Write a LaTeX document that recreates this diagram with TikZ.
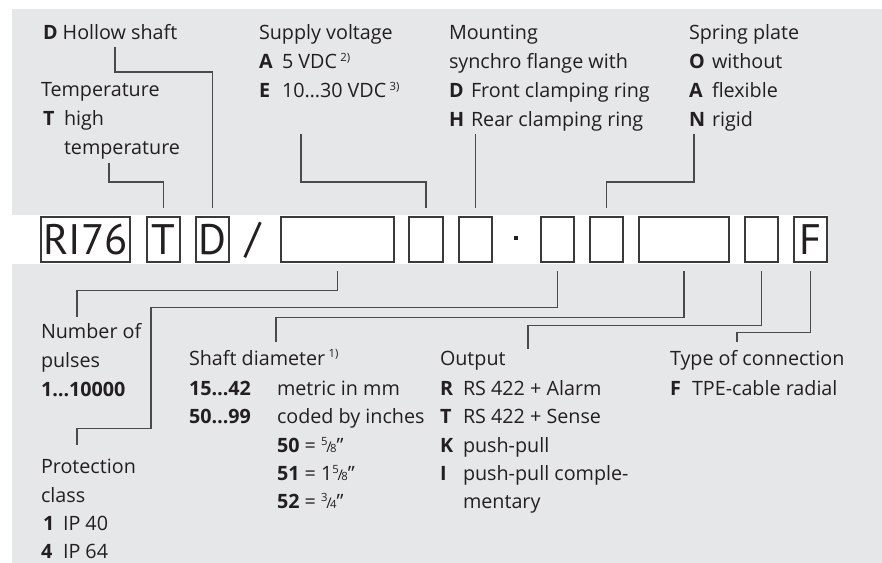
\documentclass[tikz,border=0pt]{standalone}
\usepackage{fontspec}
\setmainfont{Open Sans}
\newfontfamily\codefont{PT Sans}
\usetikzlibrary{calc}
\definecolor{bg}{HTML}{E6E7E8}
\definecolor{ink}{HTML}{231F20}
\definecolor{wire}{HTML}{4A4A4A}
\definecolor{frame}{HTML}{3A3A3A}
\newcommand\myfr[2]{\raisebox{0.62ex}{\fontsize{8.5}{9}\selectfont #1}\kern-0.06em{\fontsize{11}{12}\selectfont/}\kern-0.08em{\fontsize{8.5}{9}\selectfont #2}}
\newcommand\mysup[1]{\,\raisebox{0.75ex}{\fontsize{8.5}{9}\selectfont #1}}
\begin{document}
\begin{tikzpicture}[x=0.75pt,y=-0.75pt,
  lbl/.style={anchor=base west, inner sep=0pt, outer sep=0pt, text=ink, font=\fontsize{14.8}{17}\selectfont},
  codebox/.style={draw=frame, line width=1pt, fill=white, minimum height=33.75pt, minimum width=24.75pt, inner sep=0pt, text=ink, font=\codefont\fontsize{32}{36}\selectfont},
  codetxt/.style={inner sep=0pt, text=ink, font=\codefont\fontsize{32}{36}\selectfont},
  conn/.style={draw=wire, line width=0.8pt},
  upconn/.style={conn, shorten >=6pt},
  downconn/.style={conn, shorten <=6.5pt}]
\useasboundingbox (0,0) rectangle (882,563);
\fill[white] (0,0) rectangle (882,563);
\fill[bg] (12,9) rectangle (882,563);
\fill[white] (12,215) rectangle (828,264);

% code boxes
\node[codebox, minimum width=66.75pt] (bR) at (85.5,239.5) {RI76};
\node[codebox] (bT) at (163.5,239.5) {T};
\node[codebox] (bD) at (212.5,239.5) {D};
\node[codetxt] (sl) at (253,240) {/};
\node[codebox, minimum width=84.75pt] (bP) at (337.5,239.5) {};
\node[codebox, minimum width=25.5pt] (bV) at (426,239.5) {};
\node[codebox] (bM) at (475.5,239.5) {};
\node[fill=ink, inner sep=0pt, minimum size=3pt] (dot) at (516,238) {};
\node[codebox] (bC) at (557.5,239.5) {};
\node[codebox] (bS) at (606.5,239.5) {};
\node[codebox, minimum width=67.5pt] (bW) at (684,239.5) {};
\node[codebox] (bO) at (761.5,239.5) {};
\node[codebox] (bF) at (810.5,239.5) {F};

% top labels
\node[lbl] (hd1) at (43,40) {\textbf{D} Hollow shaft};
\node[lbl] (tp1) at (41,97) {Temperature};
\node[lbl] (tp2) at (43,126) {\textbf{T}};
\node[lbl] (tp3) at (64,126) {high};
\node[lbl] (tp4) at (64,155) {temperature};
\node[lbl] (sv1) at (259,40) {Supply voltage};
\node[lbl] (sv2) at (259,69) {\textbf{A}};
\node[lbl] (sv3) at (282,69) {5 VDC\mysup{2)}};
\node[lbl] (sv4) at (259,98) {\textbf{E}};
\node[lbl] (sv5) at (282,98) {10…30 VDC\mysup{3)}};
\node[lbl] (mt1) at (449,40) {Mounting};
\node[lbl] (mt2) at (449,69) {synchro flange with};
\node[lbl] (mt3) at (449,98) {\textbf{D}};
\node[lbl] (mt4) at (471,98) {Front clamping ring};
\node[lbl] (mt5) at (449,127) {\textbf{H}};
\node[lbl] (mt6) at (471,127) {Rear clamping ring};
\node[lbl] (sp1) at (689,40) {Spring plate};
\node[lbl] (sp2) at (689,69) {\textbf{O}};
\node[lbl] (sp3) at (712,69) {without};
\node[lbl] (sp4) at (689,98) {\textbf{A}};
\node[lbl] (sp5) at (712,98) {flexible};
\node[lbl] (sp6) at (689,127) {\textbf{N}};
\node[lbl] (sp7) at (712,127) {rigid};

% bottom labels
\node[lbl] (np1) at (41,338) {Number of};
\node[lbl] (np2) at (41,367) {pulses};
\node[lbl] (np3) at (41,396) {\textbf{1…10000}};
\node[lbl] (pc1) at (41,473) {Protection};
\node[lbl] (pc2) at (41,502) {class};
\node[lbl] (pc3) at (43,530) {\textbf{1}};
\node[lbl] (pc4) at (63,530) {IP 40};
\node[lbl] (pc5) at (41,558) {\textbf{4}};
\node[lbl] (pc6) at (63,558) {IP 64};
\node[lbl] (sd1) at (189,365) {Shaft diameter\mysup{1)}};
\node[lbl] (sd2) at (189,395) {\textbf{15…42}};
\node[lbl] (sd3) at (277,395) {metric in mm};
\node[lbl] (sd4) at (189,423) {\textbf{50…99}};
\node[lbl] (sd5) at (277,423) {coded by inches};
\node[lbl] (sd6) at (277,452) {\textbf{50} = \myfr{5}{8}"};
\node[lbl] (sd7) at (277,480) {\textbf{51} = 1\myfr{5}{8}"};
\node[lbl] (sd8) at (277,508) {\textbf{52} = \myfr{3}{4}"};
\node[lbl] (ou1) at (440,365) {Output};
\node[lbl] (ou2) at (440,395) {\textbf{R}};
\node[lbl] (ou3) at (463,395) {RS 422 + Alarm};
\node[lbl] (ou4) at (440,423) {\textbf{T}};
\node[lbl] (ou5) at (463,423) {RS 422 + Sense};
\node[lbl] (ou6) at (440,452) {\textbf{K}};
\node[lbl] (ou7) at (463,452) {push-pull};
\node[lbl] (ou8) at (440,480) {\textbf{I}};
\node[lbl] (ou9) at (463,480) {push-pull comple-};
\node[lbl] (ou10) at (463,508) {mentary};
\node[lbl] (tc1) at (670,365) {Type of connection};
\node[lbl] (tc2) at (670,395) {\textbf{F}};
\node[lbl] (tc3) at (692,395) {TPE-cable radial};

% connector ends near labels
\coordinate (aHD) at (115,47);
\coordinate (aTP) at (109,163);
\coordinate (aSV) at (301,134);
\coordinate (aMT) at (475.5,134);
\coordinate (aSP) at (694,134);
\coordinate (aNP) at (77,317);
\coordinate (aPC) at (77,445);
\coordinate (aSD) at (276,342);
\coordinate (aOU) at (528,349);
\coordinate (aTC) at (737,342);

% top connectors
\draw[upconn] (aHD) -- ++(0,25) -| (bD.north);
\draw[upconn] (aTP) -- ++(0,19) -| (bT.north);
\draw[upconn] (aSV) -- ++(0,48) -| (bV.north);
\draw[upconn] (aMT) -- (bM.north);
\draw[upconn] (aSP) -- ++(0,48) -| (bS.north);

% bottom connectors
\draw[downconn] (bP.south) -- ++(0,28) -| (aNP);
\draw[downconn] (bC.south) -- ++(0,45) -- ++(-406.5,0) -- ++(0,121) -| (aPC);
\draw[downconn] (bW.south) -- ++(0,55) -| (aSD);
\draw[downconn] (bO.south) -- ++(0,63) -| (aOU);
\draw[downconn] (bF.south) -- ++(0,70) -| (aTC);
\end{tikzpicture}
\end{document}
